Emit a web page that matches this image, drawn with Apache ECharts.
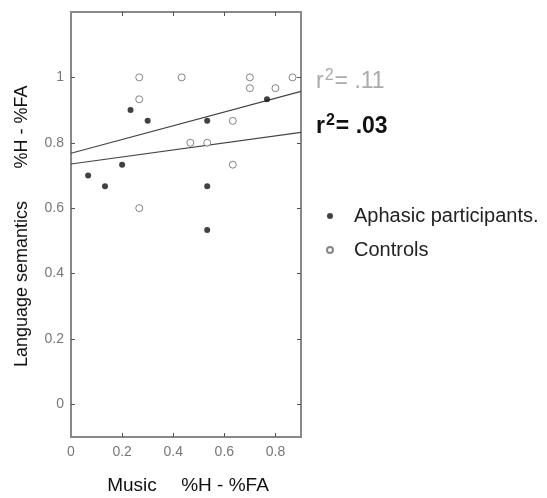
<!DOCTYPE html>
<html>
<head>
<meta charset="utf-8">
<script src="https://cdn.jsdelivr.net/npm/echarts@6/dist/echarts.min.js"></script>
<style>
  html, body { margin: 0; padding: 0; background: #fff; }
  #chart { width: 547px; height: 498px; }
</style>
</head>
<body>
<div id="chart"></div>
<script>
// scores
const aphasicX = [0.067, 0.133, 0.2, 0.233, 0.3, 0.533, 0.533, 0.533, 0.767]
const aphasicY = [0.7, 0.667, 0.733, 0.9, 0.867, 0.867, 0.667, 0.533, 0.933]
const controlX = [0.267, 0.433, 0.7, 0.867, 0.7, 0.8, 0.267, 0.633, 0.467, 0.533, 0.633, 0.267]
const controlY = [1, 1, 1, 1, 0.967, 0.967, 0.933, 0.867, 0.8, 0.8, 0.733, 0.6]
// fitted lines, end points at x = 0 and x = 0.9
const fitX = [0, 0.9]
const fitControlsY = [0.768, 0.957]
const fitAphasicY = [0.735, 0.832]
const xTicks = [0, 0.2, 0.4, 0.6, 0.8]
const yTicks = [0, 0.2, 0.4, 0.6, 0.8, 1]

const font = 'Liberation Sans, Arial, sans-serif'
const zip = (xs, ys) => xs.map((x, i) => [x, ys[i]])

const frame = { show: true, onZero: false, lineStyle: { color: '#888', width: 2 } }

function xAxisOf(pos, showLabel) {
  return {
    type: 'value', position: pos, min: 0, max: 0.9,
    axisLine: frame,
    axisTick: { show: true, inside: true, length: 4, customValues: xTicks.slice(1), lineStyle: { color: '#555' } },
    axisLabel: { show: showLabel, customValues: xTicks, margin: 8, fontSize: 14, color: '#777', fontFamily: font },
    splitLine: { show: false }
  }
}
function yAxisOf(pos, showLabel) {
  return {
    type: 'value', position: pos, min: -0.1, max: 1.2,
    axisLine: frame,
    axisTick: { show: true, inside: true, length: 4, customValues: yTicks, lineStyle: { color: '#555' } },
    axisLabel: { show: showLabel, customValues: yTicks, margin: 7, fontSize: 14, color: '#777', fontFamily: font },
    splitLine: { show: false }
  }
}

// r² labels next to the fitted lines
function rLabel(top, value, color, weight) {
  return {
    type: 'text', left: 316, top: top,
    style: {
      text: '{a|r}{s|2}{a|= ' + value + '}',
      fill: color,
      rich: {
        a: { fontSize: 23, fontWeight: weight, fontFamily: font, fill: color },
        s: { fontSize: 16, fontWeight: weight, fontFamily: font, fill: color, padding: [0, 1, 12, 1] }
      }
    }
  }
}

const myChart = echarts.init(document.getElementById('chart'))
myChart.setOption({
  animation: false,
  backgroundColor: '#fff',
  grid: { left: 71, top: 12, width: 230, height: 425 },
  xAxis: [xAxisOf('bottom', true), xAxisOf('top', false)],
  yAxis: [yAxisOf('left', true), yAxisOf('right', false)],
  legend: {
    data: ['Aphasic participants.', 'Controls'],
    orient: 'vertical', left: 326, top: 206, padding: 0,
    itemWidth: 6, itemHeight: 6, itemGap: 14,
    textStyle: { fontSize: 20, color: '#222', fontFamily: font, padding: [0, 0, 0, 16] }
  },
  graphic: [
    rLabel(68, '.11', '#aaa', 'normal'),
    rLabel(113, '.03', '#111', 'bold'),
    { type: 'text', x: 22, y: 127, rotation: Math.PI / 2, style: { text: '%H - %FA', font: '18px ' + font, fill: '#111', align: 'center', verticalAlign: 'middle' } },
    { type: 'text', x: 22, y: 284, rotation: Math.PI / 2, style: { text: 'Language semantics', font: '18px ' + font, fill: '#111', align: 'center', verticalAlign: 'middle' } },
    { type: 'text', x: 132, y: 486, style: { text: 'Music', font: '19px ' + font, fill: '#111', align: 'center', verticalAlign: 'middle' } },
    { type: 'text', x: 225, y: 486, style: { text: '%H - %FA', font: '19px ' + font, fill: '#111', align: 'center', verticalAlign: 'middle' } }
  ],
  series: [
    {
      name: 'Aphasic participants.', type: 'scatter', symbol: 'circle', symbolSize: 6,
      itemStyle: { color: '#111' }, data: zip(aphasicX, aphasicY), z: 4
    },
    {
      name: 'Controls', type: 'scatter', symbol: 'circle', symbolSize: 7,
      itemStyle: { color: '#fff', borderColor: '#666', borderWidth: 1 }, data: zip(controlX, controlY), z: 3
    },
    {
      name: 'fit controls', type: 'line', symbol: 'none', silent: true,
      lineStyle: { color: '#444', width: 1.2 }, data: zip(fitX, fitControlsY)
    },
    {
      name: 'fit aphasic', type: 'line', symbol: 'none', silent: true,
      lineStyle: { color: '#444', width: 1.2 }, data: zip(fitX, fitAphasicY)
    }
  ]
})
</script>
</body>
</html>
